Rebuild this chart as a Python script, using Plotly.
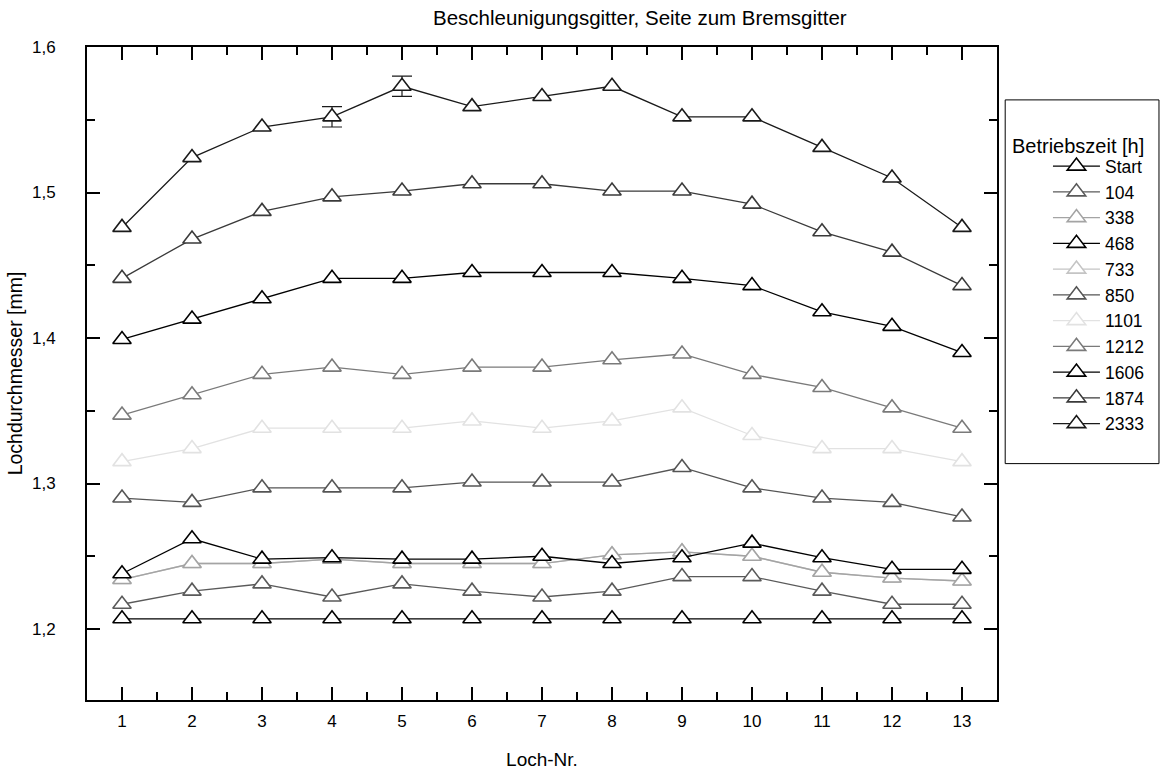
import plotly.graph_objects as go

holes = list(range(1, 14))

series_names = ["Start", "104", "338", "468", "733", "850", "1101", "1212", "1606", "1874", "2333"]

v_start = [1.207] * 13
v_104 = [1.217, 1.226, 1.231, 1.222, 1.231, 1.226, 1.222, 1.226, 1.236, 1.236, 1.226, 1.217, 1.217]
v_338 = [1.234, 1.245, 1.245, 1.248, 1.245, 1.245, 1.245, 1.251, 1.253, 1.250, 1.239, 1.235, 1.233]
v_468 = [1.238, 1.262, 1.248, 1.249, 1.248, 1.248, 1.250, 1.245, 1.249, 1.259, 1.249, 1.241, 1.241]
v_733 = [1.234, 1.245, 1.245, 1.248, 1.245, 1.245, 1.245, 1.251, 1.253, 1.250, 1.239, 1.235, 1.233]
v_850 = [1.290, 1.287, 1.297, 1.297, 1.297, 1.301, 1.301, 1.301, 1.311, 1.297, 1.290, 1.287, 1.277]
v_1101 = [1.315, 1.324, 1.338, 1.338, 1.338, 1.343, 1.338, 1.343, 1.352, 1.333, 1.324, 1.324, 1.315]
v_1212 = [1.347, 1.361, 1.375, 1.380, 1.375, 1.380, 1.380, 1.385, 1.389, 1.375, 1.366, 1.352, 1.338]
v_1606 = [1.399, 1.413, 1.427, 1.441, 1.441, 1.445, 1.445, 1.445, 1.441, 1.436, 1.418, 1.408, 1.390]
v_1874 = [1.441, 1.468, 1.487, 1.497, 1.501, 1.506, 1.506, 1.501, 1.501, 1.492, 1.473, 1.459, 1.436]
v_2333 = [1.476, 1.524, 1.545, 1.552, 1.573, 1.559, 1.566, 1.573, 1.552, 1.552, 1.531, 1.510, 1.476]
err_2333 = [None, None, None, 0.007, 0.007, None, None, None, None, None, None, None, None]

values = [v_start, v_104, v_338, v_468, v_733, v_850, v_1101, v_1212, v_1606, v_1874, v_2333]
colors = ["#000000", "#5a5a5a", "#a4a4a4", "#000000", "#c4c4c4", "#555555",
          "#e2e2e2", "#7a7a7a", "#000000", "#3a3a3a", "#1a1a1a"]

FONT = "Liberation Sans, Arial, Helvetica, sans-serif"

fig = go.Figure()

# error bars of the 2333 h series (only where a scatter was given)
err_idx = [k for k, e in enumerate(err_2333) if e is not None]
fig.add_trace(go.Scatter(
    x=[holes[k] for k in err_idx], y=[v_2333[k] for k in err_idx], mode="markers",
    marker=dict(size=1, color="rgba(0,0,0,0)"), showlegend=False, hoverinfo="skip",
    error_y=dict(type="data", array=[err_2333[k] for k in err_idx], visible=True,
                 color="#1a1a1a", thickness=1.2, width=10)))

# draw 733 first so it lies beneath the others (legend order kept with legendrank)
order = [4] + [i for i in range(len(series_names)) if i != 4]
for i in order:
    fig.add_trace(go.Scatter(
        x=holes, y=values[i], name=series_names[i], mode="lines+markers",
        line=dict(color=colors[i], width=1.3),
        marker=dict(symbol="triangle-up", size=16, color="white",
                    line=dict(color=colors[i], width=1.6)),
        legendrank=100 + i))

axis_common = dict(
    showline=True, linecolor="black", linewidth=2, mirror="allticks",
    ticks="inside", ticklen=13, tickwidth=2, tickcolor="black",
    showgrid=False, zeroline=False, automargin=False,
    tickfont=dict(family=FONT, size=17, color="black"),
)

fig.update_layout(
    width=1163, height=778,
    margin=dict(l=87, r=166, t=47, b=78, autoexpand=False),
    paper_bgcolor="white", plot_bgcolor="white",
    separators=",.",
    font=dict(family=FONT, size=17, color="black"),
    xaxis=dict(range=[0.5, 13.5], tickvals=holes, ticktext=[str(h) for h in holes],
               minor=dict(ticks="inside", ticklen=8, tickwidth=2, tickcolor="black",
                          tickvals=[h + 0.5 for h in range(0, 14)], showgrid=False),
               ticklabelstandoff=5,
               title=dict(text="Loch-Nr.", font=dict(family=FONT, size=19), standoff=22),
               **axis_common),
    yaxis=dict(range=[1.1512, 1.6], tick0=1.2, dtick=0.1, tickformat=".1f",
               minor=dict(ticks="inside", ticklen=8, tickwidth=2, tickcolor="black",
                          dtick=0.05, showgrid=False),
               ticklabelstandoff=26,
               title=dict(text="Lochdurchmesser [mm]", font=dict(family=FONT, size=19.5), standoff=4),
               **axis_common),
    showlegend=True,
    legend=dict(x=1.056, y=0.845, xanchor="left", yanchor="top",
                bgcolor="rgba(0,0,0,0)", borderwidth=0,
                font=dict(family=FONT, size=17.5, color="black"),
                itemwidth=47),
    annotations=[
        dict(text="Beschleunigungsgitter, Seite zum Bremsgitter", xref="paper", yref="paper",
             x=0.608, y=1.0, yshift=30, xanchor="center", yanchor="middle", showarrow=False,
             font=dict(family=FONT, size=20.5, color="black")),
        dict(text="Betriebszeit [h]", xref="paper", yref="paper",
             x=1.009, y=0.848, xshift=5, xanchor="left", yanchor="middle", showarrow=False,
             font=dict(family=FONT, size=20, color="black")),
    ],
    shapes=[
        dict(type="rect", xref="paper", yref="paper", x0=1.009, x1=1.178, y0=0.362, y1=0.919,
             line=dict(color="black", width=1), fillcolor="rgba(0,0,0,0)"),
    ],
)

fig.write_html("out.html")
